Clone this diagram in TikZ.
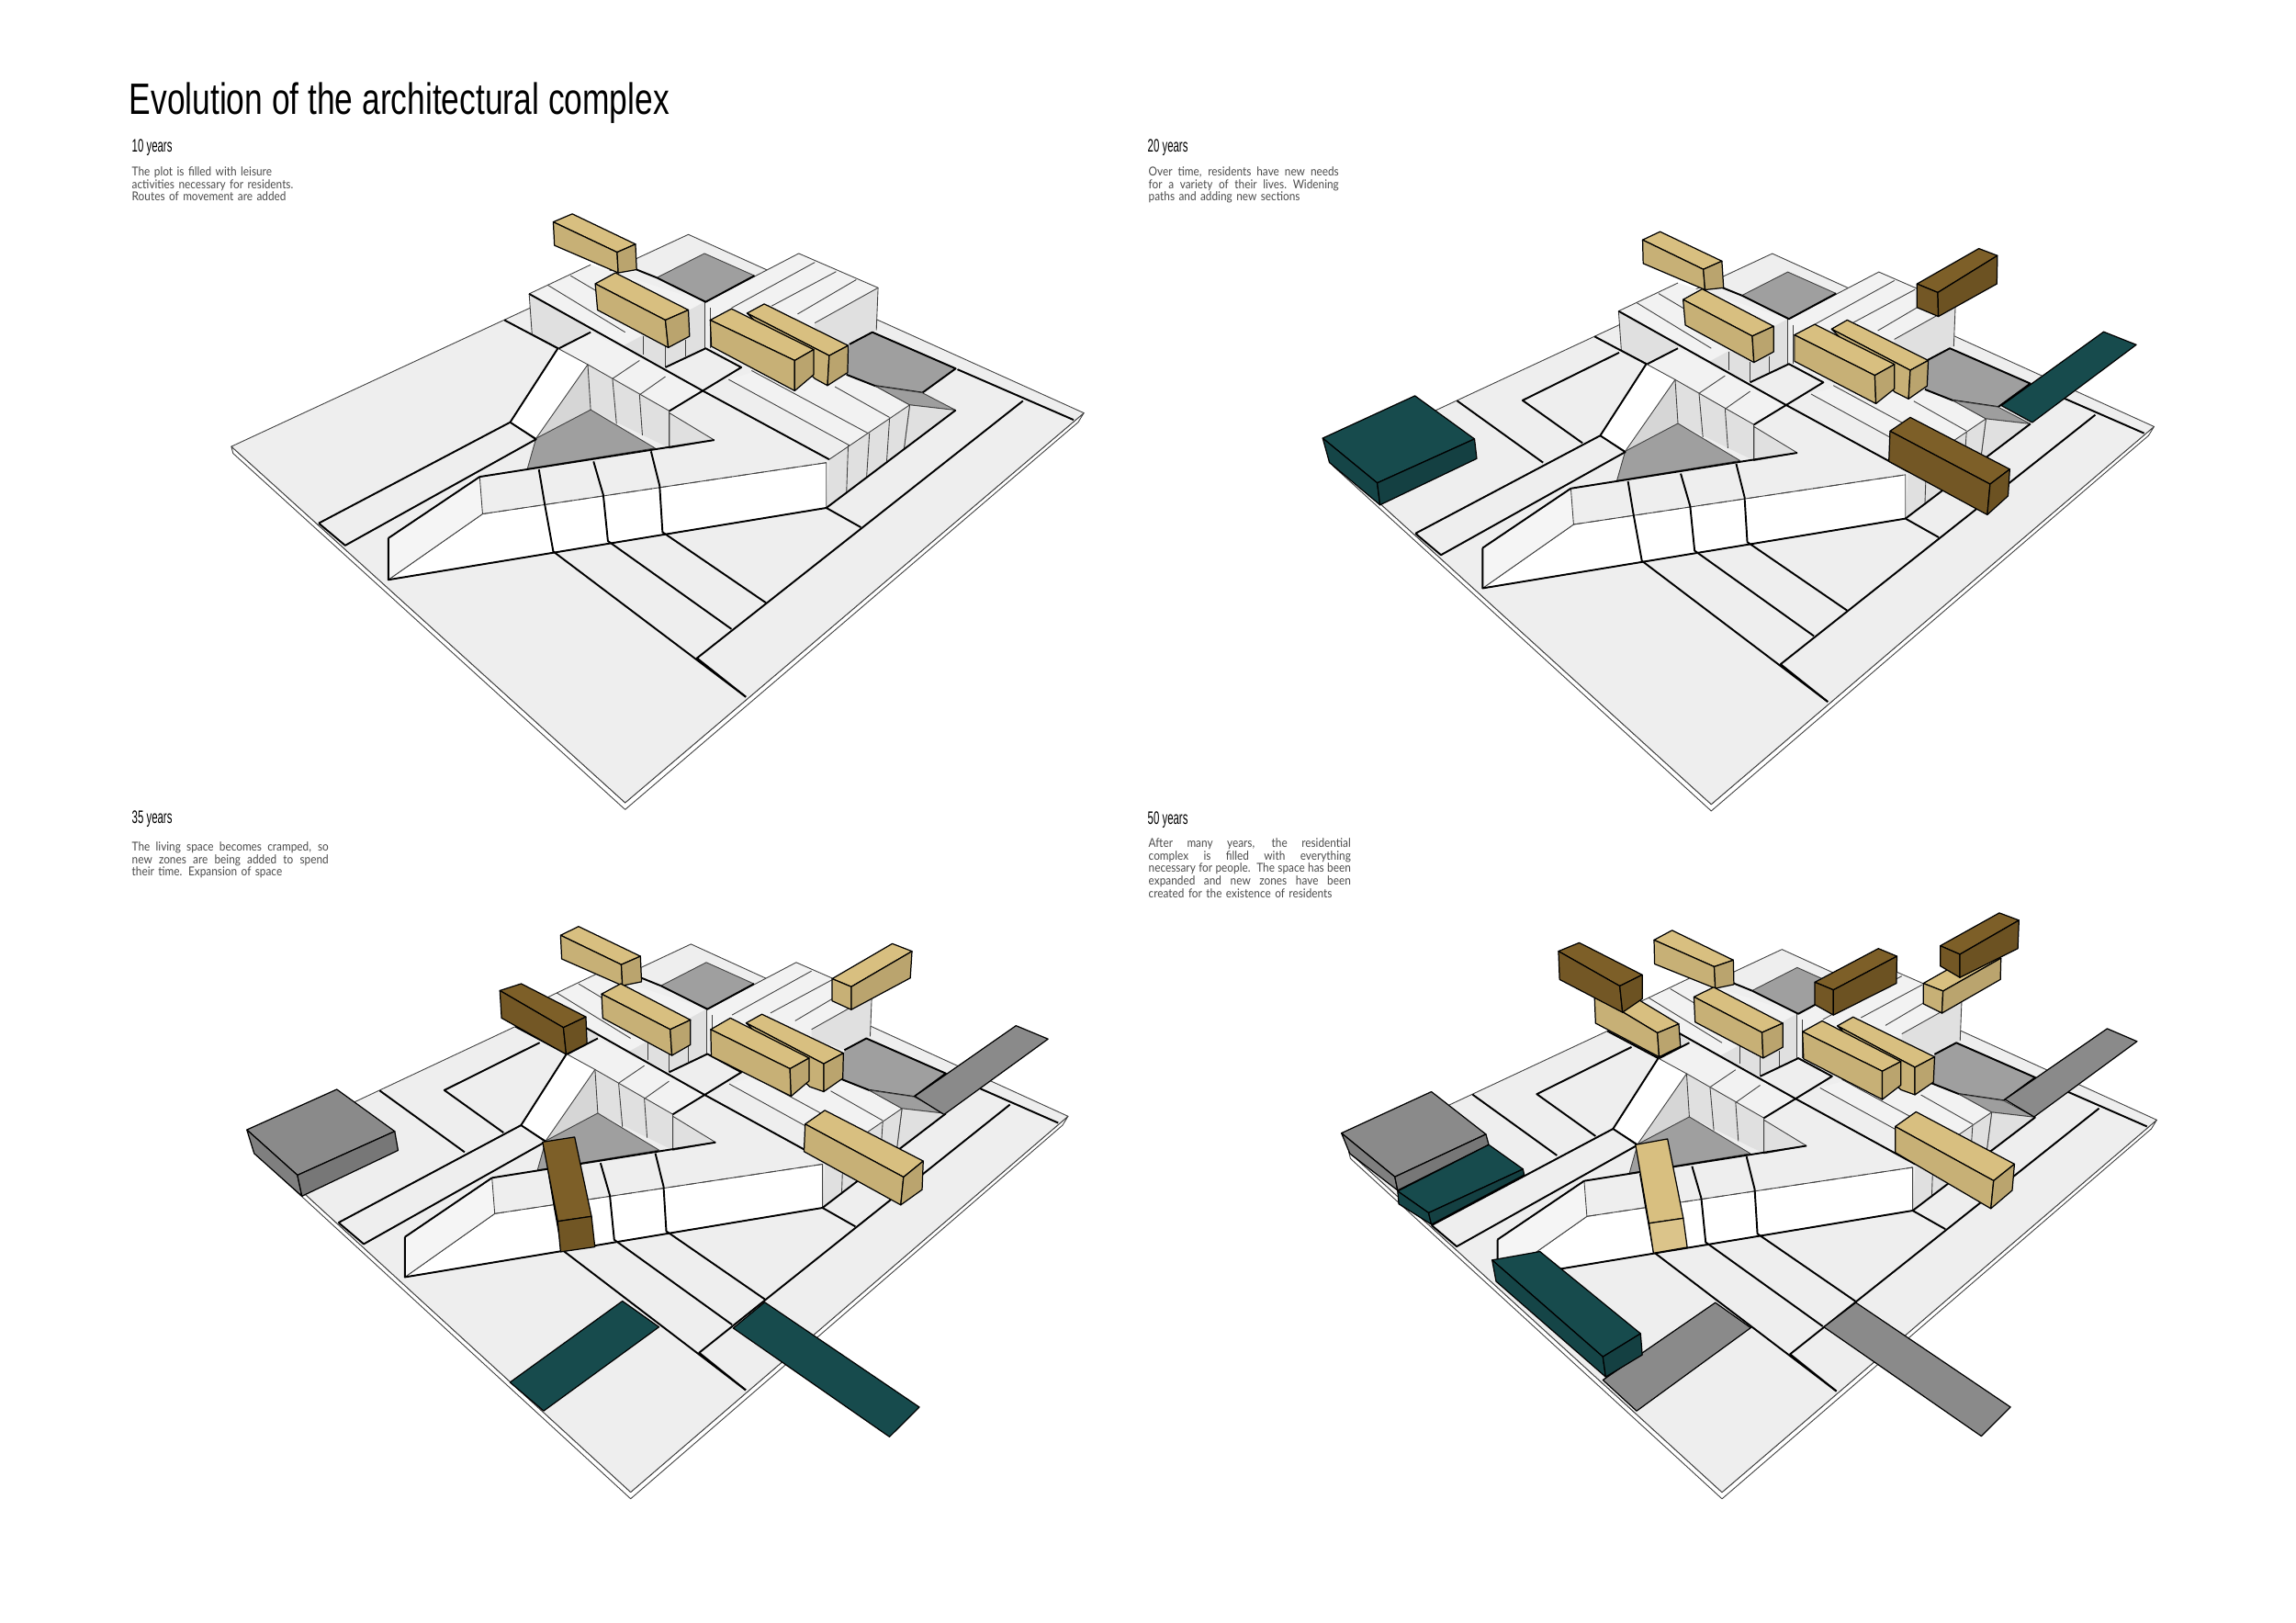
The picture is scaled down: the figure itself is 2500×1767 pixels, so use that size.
\documentclass[tikz,border=0pt]{standalone}
\usepackage{fontspec}
\usetikzlibrary{positioning}
\setmainfont{Liberation Sans}
\newfontfamily\titlefont[FakeStretch=0.74]{Liberation Sans}
\newfontfamily\headfont[FakeStretch=0.58]{Liberation Sans}
\newfontfamily\bodyfont[FakeStretch=0.885]{Lato}

\definecolor{ground}{HTML}{EEEEEE}
\definecolor{deck}{HTML}{F2F2F2}
\definecolor{wallgray}{HTML}{E0E0E0}
\definecolor{pitgray}{HTML}{9F9F9F}
\definecolor{ochre}{HTML}{D8BF80}
\definecolor{umber}{HTML}{7D5F28}
\definecolor{pine}{HTML}{174B4D}
\definecolor{slate}{HTML}{8A8A8A}

\tikzset{
    crop/.style n args={4}{shift={(#1,#2)}, x=#3cm, y=-#4cm},
    fitted/.style n args={4}{shift={(#1,#2)}, xscale=#3, yscale=#4},
    heavy/.style={line width=0.55pt, line join=round},
    fine/.style={line width=0.25pt, draw=black!75, line join=round},
    slab/.style={fill=#1, draw=black, line width=0.35pt, line join=round},
    heading/.style={anchor=north west, inner sep=0pt, font=\headfont\fontsize{5.6}{6}\selectfont},
    blurb/.style={anchor=north west, inner sep=0pt, text=black!70, align=left,
        font=\bodyfont\fontsize{3.8}{3.9}\selectfont}
}

% box seen from above: outline a-b-c-d-e-f, inner corner g
\newcommand{\block}[8]{
    \draw[slab=#1] (#2) -- (#3) -- (#4) -- (#8) -- cycle;
    \draw[slab=#1!92!black] (#2) -- (#8) -- (#6) -- (#7) -- cycle;
    \draw[slab=#1!86!black] (#8) -- (#4) -- (#5) -- (#6) -- cycle;
}

% line set to a given width
\newcommand{\fullline}[2]{\makebox[#1][s]{\spaceskip=0pt\relax #2}\\}

\newcommand{\basemodel}{
    % 1. Plate
    \draw[fine, fill=white] (35,628) -- (38,645) -- (720,1527) -- (1508,568) -- (1518,545) -- (720,1510) -- cycle;
    \draw[fine, fill=ground] (35,628) -- (830,103) -- (1518,545) -- (720,1510) -- cycle;

    % 2. Back blocks
    \fill[pitgray] (775,210) -- (858,150) -- (945,205) -- (860,270) -- cycle;
    \draw[fine] (775,210) -- (858,150) -- (945,205);
    \fill[deck] (553,250) -- (660,178) -- (858,270) -- (715,380) -- cycle;
    \fill[wallgray] (715,380) -- (858,270) -- (858,385) -- (790,432) -- cycle;
    \fill[wallgray] (553,250) -- (558,350) -- (605,385) -- (660,340) -- cycle;
    \draw[fine] (553,250) -- (558,350) -- (605,385);
    \draw[fine] (553,250) -- (660,178);
    \draw[fine] (585,228) -- (720,345);
    \draw[fine] (625,205) -- (750,310);
    \draw[fine] (752,355) -- (752,400);
    \draw[fine] (790,380) -- (790,432);
    \draw[fine] (825,365) -- (825,405);
    \draw[fine] (858,270) -- (858,385);
    \fill[deck] (860,270) -- (1022,150) -- (1160,235) -- (1050,325) -- (950,370) -- (868,360) -- cycle;
    \fill[wallgray] (1050,322) -- (1160,235) -- (1157,340) -- (1110,375) -- (1050,345) -- cycle;
    \draw[fine] (860,270) -- (1022,150) -- (1160,235) -- (1157,340);
    \draw[fine] (1160,235) -- (1050,322);
    \draw[fine] (905,285) -- (1050,172);
    \draw[fine] (975,280) -- (1087,195);
    \draw[fine] (1020,300) -- (1122,215);
    \draw[fine] (868,285) -- (868,385);
    \draw[heavy] (775,210) -- (860,270) -- (945,205);
    \draw[heavy] (740,190) -- (775,210);

    % 3. Right court
    \fill[deck] (900,462) -- (1000,420) -- (1110,375) -- (1105,450) -- (1155,478) -- (1215,525) -- (1110,625) -- cycle;
    \draw[fine] (900,462) -- (1110,625);
    \draw[fine] (940,440) -- (1145,597);
    \draw[fine] (1085,480) -- (1180,556);
    \draw[fine] (1155,478) -- (1215,525);
    \fill[pitgray] (1110,375) -- (1150,345) -- (1295,435) -- (1237,495) -- (1155,478) -- (1105,450) -- cycle;
    \draw[heavy] (1110,375) -- (1150,345) -- (1295,435) -- (1237,495) -- (1155,478) -- (1105,450);
    \draw[fine, fill=black!38] (1155,478) -- (1237,495) -- (1295,538) -- (1215,525) -- cycle;
    \draw[fine, fill=wallgray] (1215,525) -- (1295,538) -- (1205,635) -- cycle;
    \fill[wallgray] (1075,660) -- (1215,525) -- (1205,635) -- (1070,780) -- cycle;
    \draw[fine] (1108,625) -- (1105,745);
    \draw[fine] (1145,595) -- (1140,705);
    \draw[fine] (1180,558) -- (1175,665);
    \draw[fine] (1075,660) -- (1215,525) -- (1205,635);

    % 4. Centre pit
    \fill[deck] (605,385) -- (660,345) -- (855,490) -- (797,540) -- (655,425) -- cycle;
    \fill[wallgray] (655,425) -- (797,540) -- (797,632) -- (660,537) -- cycle;
    \fill[black!16] (655,425) -- (660,537) -- (565,608) -- cycle;
    \draw[fine, fill=wallgray] (797,545) -- (875,612) -- (797,632) -- cycle;
    \draw[fine, fill=pitgray] (565,608) -- (660,537) -- (772,632) -- (550,683) -- cycle;
    \draw[fine, fill=white] (603,385) -- (655,425) -- (565,608) -- (520,568) -- cycle;
    \draw[fine] (655,425) -- (660,537);
    \draw[fine] (698,460) -- (705,572);
    \draw[fine] (745,500) -- (750,600);
    \draw[fine] (797,540) -- (797,632);
    \draw[fine] (655,425) -- (797,540);
    \draw[fine] (745,415) -- (698,460);
    \draw[fine] (790,455) -- (745,500);

    % 5. Ramp
    \draw[fine, fill=white] (472,795) -- (1070,668) -- (1070,780) -- (308,958) -- cycle;
    \draw[fine, fill=white!96!black] (308,855) -- (467,703) -- (472,795) -- (308,958) -- cycle;
    \draw[fine, densely dashed] (472,795) -- (1070,668);

    % 6. Road lines
    \draw[heavy] (187,818) -- (520,568) -- (603,385) -- (510,315);
    \draw[heavy] (187,818) -- (233,873) -- (565,610) -- (520,568);
    \draw[heavy] (467,703) -- (875,612);
    \draw[heavy] (308,855) -- (467,703);
    \draw[heavy] (308,855) -- (308,958) -- (1070,780) -- (1130,828);
    \draw[heavy] (1070,780) -- (1295,538);
    \draw[heavy] (570,685) -- (580,770) -- (595,888) -- (930,1248);
    \draw[heavy] (665,665) -- (682,748) -- (690,862) -- (905,1080);
    \draw[heavy] (765,640) -- (780,725) -- (785,840) -- (965,1015);
    \draw[heavy] (1412,515) -- (845,1152) -- (930,1248);
    \draw[heavy] (1298,437) -- (1500,562);
    \draw[heavy] (855,490) -- (1075,660);
    \draw[heavy] (553,250) -- (855,490) -- (797,540);
    \draw[heavy] (790,432) -- (860,385) -- (922,432) -- (855,490);
    \draw[heavy] (660,345) -- (605,385);
}

% inner road added after the first stage
\newcommand{\innerroad}{
    \draw[heavy] (262,479) -- (417,637);
    \draw[heavy] (488,587) -- (380,478) -- (554,356);
}

\begin{document}
\begin{tikzpicture}[x=0.01cm, y=-0.01cm]

    \useasboundingbox (0,0) rectangle (2500,1767);
    \fill[white] (0,0) rectangle (2500,1767);

    % Texts
    \node[anchor=north west, inner sep=0pt, font=\titlefont\fontsize{13.6}{15}\selectfont] (title) at (140,89) {Evolution of the architectural complex};

    \node[heading] (head10) at (143,151) {10 years};
    \node[heading] (head20) at (1249,151) {20 years};
    \node[heading] (head35) at (143,882) {35 years};
    \node[heading] (head50) at (1249,883) {50 years};

    \node[blurb, text width=2.2cm] (text10) at (143,181) {The plot is filled with leisure\\activities necessary for residents.\\Routes of movement are added};
    \node[blurb, text width=2.2cm] (text20) at (1250,181) {\fullline{2.07cm}{Over time, residents have new needs}\fullline{2.07cm}{for a variety of their lives. Widening}paths and adding new sections};
    \node[blurb, text width=2.2cm] (text35) at (143,916) {\fullline{2.14cm}{The living space becomes cramped, so}\fullline{2.14cm}{new zones are being added to spend}their time. Expansion of space};
    \node[blurb, text width=2.4cm] (text50) at (1250,912) {\fullline{2.2cm}{After many years, the residential}\fullline{2.2cm}{complex is filled with everything}\fullline{2.2cm}{necessary for people. The space has been}\fullline{2.2cm}{expanded and new zones have been}created for the existence of residents};

    % Stage 1
    \begin{scope}[crop={230}{210}{0.00625}{0.0044}]
        \basemodel
        \block{ochre}{595,72}{628,52}{738,127}{740,190}{708,198}{597,130}{706,147}
        \block{ochre}{668,225}{703,198}{830,290}{832,355}{795,383}{672,290}{790,315}
        \block{ochre}{932,298}{962,275}{1108,378}{1107,445}{1072,477}{1050,460}{1075,403}
        \block{ochre}{868,315}{905,287}{1048,388}{1048,450}{1015,490}{870,380}{1015,415}
    \end{scope}

    % Stage 2
    \begin{scope}[crop={1420}{230}{0.006122}{0.004273}]
        \begin{scope}[fitted={13.4}{5.1}{0.987}{0.997}]
            \basemodel
            \innerroad
        \end{scope}
        \block{pine}{33,578}{197,470}{303,580}{307,630}{135,748}{45,640}{130,692}
        \draw[slab=pine] (1240,495) -- (1422,307) -- (1480,340) -- (1295,538) -- cycle;
        \block{ochre}{602,73}{633,52}{743,127}{746,195}{713,200}{603,133}{710,148}
        \block{ochre}{674,225}{708,198}{835,293}{835,358}{800,385}{678,290}{797,318}
        \block{umber}{1090,185}{1200,95}{1233,113}{1232,185}{1128,268}{1090,245}{1127,207}
        \block{ochre}{938,300}{966,277}{1110,380}{1108,445}{1075,478}{1050,460}{1078,405}
        \block{ochre}{872,315}{908,288}{1050,390}{1050,452}{1017,490}{872,382}{1015,418}
        \block{umber}{1042,560}{1078,525}{1255,657}{1252,725}{1215,773}{1040,637}{1220,695}
    \end{scope}

    % Stage 3
    \begin{scope}[crop={240}{990}{0.006122}{0.004146}]
        \begin{scope}[fitted={27.8}{-14}{0.9748}{1.0212}]
            \basemodel
            \innerroad
        \end{scope}
        \block{slate}{47,578}{207,472}{310,582}{316,632}{145,752}{60,640}{137,697}
        \draw[slab=slate] (1235,490) -- (1415,305) -- (1472,340) -- (1287,538) -- cycle;
        \draw[slab=pine] (515,1240) -- (715,1027) -- (780,1095) -- (575,1315) -- cycle;
        \draw[slab=pine] (912,1098) -- (968,1030) -- (1243,1305) -- (1190,1383) -- cycle;
        \block{ochre}{605,68}{637,45}{747,123}{749,190}{715,200}{607,130}{713,145}
        \block{umber}{497,213}{535,195}{650,282}{652,352}{615,380}{500,285}{610,310}
        \block{ochre}{678,222}{712,195}{836,290}{836,355}{803,383}{680,285}{800,315}
        \block{ochre}{1088,182}{1195,90}{1230,110}{1227,180}{1122,263}{1088,240}{1122,203}
        \block{ochre}{935,298}{963,275}{1108,377}{1107,443}{1073,478}{1048,465}{1073,405}
        \block{ochre}{872,315}{907,285}{1047,390}{1047,450}{1015,490}{873,385}{1013,418}
        \block{ochre}{1040,563}{1075,527}{1250,660}{1248,735}{1210,775}{1038,635}{1215,702}
        \draw[slab=umber] (573,610) -- (630,597) -- (660,805) -- (600,818) -- cycle;
        \draw[slab=umber!90!black] (600,818) -- (660,805) -- (666,885) -- (605,898) -- cycle;
    \end{scope}

    % Stage 4
    \begin{scope}[crop={1430}{980}{0.006122}{0.004209}]
        \begin{scope}[fitted={29.2}{24.6}{0.969}{0.997}]
            \basemodel
            \innerroad
        \end{scope}
        \block{slate}{50,602}{210,495}{307,605}{312,632}{150,750}{65,655}{145,715}
        \block{pine}{150,752}{312,632}{373,695}{375,710}{210,838}{152,785}{205,808}
        \draw[slab=slate] (1230,515) -- (1412,332) -- (1465,365) -- (1282,560) -- cycle;
        \draw[slab=slate] (515,1240) -- (715,1040) -- (778,1105) -- (575,1320) -- cycle;
        \draw[slab=slate] (908,1103) -- (965,1040) -- (1240,1310) -- (1188,1385) -- cycle;
        \block{pine}{318,930}{403,908}{582,1120}{585,1175}{520,1232}{325,985}{515,1180}
        \block{ochre}{500,245}{538,222}{650,320}{653,378}{615,405}{502,318}{612,343}
        \block{umber}{436,132}{473,110}{585,193}{585,255}{550,290}{438,205}{545,222}
        \block{ochre}{606,103}{638,78}{747,155}{748,218}{715,228}{607,165}{713,172}
        \block{ochre}{677,250}{712,225}{835,318}{835,380}{800,408}{679,315}{798,342}
        \block{umber}{892,212}{1005,125}{1038,145}{1037,215}{925,297}{892,270}{925,232}
        \block{ochre}{1085,215}{1188,130}{1223,150}{1222,205}{1118,292}{1085,268}{1120,235}
        \block{umber}{1115,118}{1220,33}{1255,52}{1253,125}{1150,200}{1115,170}{1150,140}
        \block{ochre}{932,325}{960,302}{1105,405}{1103,470}{1070,503}{1045,490}{1070,432}
        \block{ochre}{870,340}{905,312}{1045,417}{1045,478}{1012,515}{872,410}{1012,442}
        \block{ochre}{1035,585}{1072,547}{1247,682}{1243,750}{1205,797}{1035,652}{1210,725}
        \draw[slab=ochre] (573,632) -- (630,617) -- (658,822) -- (597,835) -- cycle;
        \draw[slab=ochre!92!white] (597,835) -- (658,822) -- (665,897) -- (605,912) -- cycle;
    \end{scope}

\end{tikzpicture}
\end{document}
